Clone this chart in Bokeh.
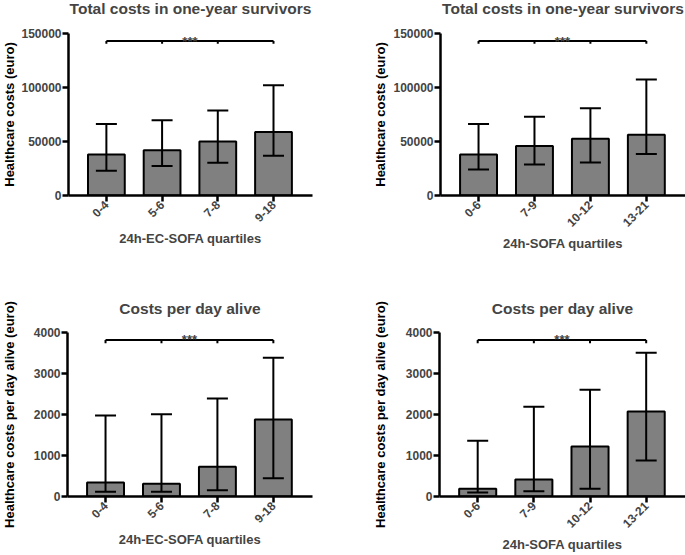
import math
from bokeh.plotting import figure
from bokeh.layouts import column, row
from bokeh.models import (ColumnDataSource, Whisker, TeeHead, FixedTicker,
                          NumeralTickFormatter, Range1d, Label)
from bokeh.core.properties import value
from bokeh.embed import file_html
from bokeh.resources import INLINE

# ---------------- data ----------------
ec_sofa_cats = ["0-4", "5-6", "7-8", "9-18"]
sofa_cats = ["0-6", "7-9", "10-12", "13-21"]

# Total costs in one-year survivors (median, lower, upper)
total_ec_median = [38000, 41800, 50100, 58800]
total_ec_lower = [22900, 27200, 30300, 36800]
total_ec_upper = [66200, 69600, 78600, 102000]

total_sofa_median = [38000, 45800, 52600, 56300]
total_sofa_lower = [24100, 28800, 30600, 38400]
total_sofa_upper = [66200, 73000, 80700, 107300]

# Costs per day alive
day_ec_median = [341, 309, 724, 1878]
day_ec_lower = [114, 114, 154, 447]
day_ec_upper = [1976, 2008, 2390, 3382]

day_sofa_median = [187, 415, 1220, 2073]
day_sofa_lower = [98, 130, 187, 878]
day_sofa_upper = [1358, 2187, 2602, 3504]

total_ticks = [0, 50000, 100000, 150000]
day_ticks = [0, 1000, 2000, 3000, 4000]

# significance bracket: (line level, tick bottom)
total_bracket = [143000, 140500]
day_bracket = [3820, 3740]
sig_text = "***"

y_titles = ["Healthcare costs (euro)", "Healthcare costs per day alive (euro)"]

FONT = "Liberation Sans"
BAR_COLOR = "#808080"
X0, X1 = 0.32, 4.70


def no_align(f):
    if "frame_align" in f.properties():
        f.frame_align = False
    return f


def make_panel(title, cats, med, low, up, ticks, ymax, bracket, xlabel,
               width, height, bl, br, bb, axis_px, head_px, title_base):
    # the frame reaches the top of the figure; the axis itself spans
    # [0, ymax] over axis_px pixels, leaving head_px pixels above for the title
    yend = ymax * (axis_px + head_px) / axis_px
    x = list(range(1, len(cats) + 1))
    src = ColumnDataSource(dict(x=x, med=med, low=low, up=up))
    p = figure(width=width, height=height, output_backend="svg",
               toolbar_location=None, x_range=Range1d(X0, X1),
               y_range=Range1d(0, yend),
               min_border_left=bl, min_border_right=br,
               min_border_top=0, min_border_bottom=bb)
    no_align(p)
    p.outline_line_color = None
    p.grid.visible = False
    p.background_fill_color = "white"
    p.border_fill_color = "white"

    p.vbar(x="x", top="med", bottom=0, width=0.66, source=src,
           fill_color=BAR_COLOR, line_color="black", line_width=2)

    w = Whisker(base="x", upper="up", lower="low", source=src,
                line_width=2, line_color="black", level="overlay",
                upper_head=TeeHead(size=21, line_width=2, line_color="black"),
                lower_head=TeeHead(size=21, line_width=2, line_color="black"))
    p.add_layout(w)

    # significance bracket
    p.segment(x0=[x[0]], y0=[bracket[0]], x1=[x[-1]], y1=[bracket[0]],
              line_color="black", line_width=2)
    p.segment(x0=x, y0=[bracket[0]] * len(x), x1=x, y1=[bracket[1]] * len(x),
              line_color="black", line_width=2)
    p.add_layout(Label(x=(x[0] + x[-1]) / 2, y=bracket[0], text=sig_text,
                       text_align="center", text_baseline="alphabetic",
                       text_font=FONT, text_font_style="bold",
                       text_font_size="13px", y_offset=0))

    # title
    p.add_layout(Label(x=(X0 + X1) / 2, y=yend, y_offset=-title_base,
                       text=title, text_align="center",
                       text_baseline="alphabetic", text_font=FONT,
                       text_font_style="bold", text_font_size="15.5px"))

    for ax in (p.xaxis[0], p.yaxis[0]):
        ax.axis_line_width = 2.5
        ax.major_tick_line_width = 2.5
        ax.major_tick_out = 6
        ax.major_tick_in = 0
        ax.minor_tick_line_color = None
        ax.major_label_text_font = FONT
        ax.major_label_text_font_style = "bold"
        ax.major_label_text_font_size = "12px"
        ax.axis_label_text_font = FONT
        ax.axis_label_text_font_style = "bold"
        ax.axis_label_text_font_size = "13px"
        ax.major_label_standoff = 1

    p.xaxis.ticker = FixedTicker(ticks=x)
    p.xaxis.major_label_overrides = {xi: c for xi, c in zip(x, cats)}
    p.xaxis.major_label_orientation = math.pi / 4
    p.xaxis.axis_label = xlabel
    p.xaxis.axis_label_standoff = 2

    p.yaxis.ticker = FixedTicker(ticks=ticks)
    p.yaxis.formatter = NumeralTickFormatter(format="0")
    p.yaxis.bounds = (0, ymax)
    return p


TH, BH = 290, 265
T_BB, T_AX, T_HEAD = 95, 162, 33
B_BB, B_AX, B_HEAD = 59, 164, 42
H_TOTAL = TH + BH
# vertical centres (from the top) of the two value axes
axis_centres = [T_HEAD + T_AX / 2, TH + B_HEAD + B_AX / 2]


def make_ylabel_strip(width):
    # full-height strip carrying the vertical axis titles of both rows
    f = figure(width=width, height=H_TOTAL, output_backend="svg",
               toolbar_location=None, x_range=Range1d(0, 1),
               y_range=Range1d(0, H_TOTAL), x_axis_location=None,
               y_axis_location=None, min_border=0,
               min_border_left=0, min_border_right=0,
               min_border_top=0, min_border_bottom=0)
    no_align(f)
    f.outline_line_color = None
    f.grid.visible = False
    f.text(x=[0.5, 0.5], y=[H_TOTAL - c for c in axis_centres], text=y_titles,
           angle=math.pi / 2, text_align="center", text_baseline="middle",
           text_font=value(FONT), text_font_style="bold",
           text_font_size="13px", text_color="black")
    return f


LCOL, RCOL = 352, 295

p1 = make_panel("Total costs in one-year survivors", ec_sofa_cats,
                total_ec_median, total_ec_lower, total_ec_upper,
                total_ticks, 150000, total_bracket, "24h-EC-SOFA quartiles",
                LCOL, TH, 49, 58, T_BB, T_AX, T_HEAD, 8)
p2 = make_panel("Total costs in one-year survivors", sofa_cats,
                total_sofa_median, total_sofa_lower, total_sofa_upper,
                total_ticks, 150000, total_bracket, "24h-SOFA quartiles",
                RCOL, TH, 49, 0, T_BB, T_AX, T_HEAD, 8)
p3 = make_panel("Costs per day alive", ec_sofa_cats,
                day_ec_median, day_ec_lower, day_ec_upper,
                day_ticks, 4000, day_bracket, "24h-EC-SOFA quartiles",
                LCOL, BH, 49, 58, B_BB, B_AX, B_HEAD, 18)
p4 = make_panel("Costs per day alive", sofa_cats,
                day_sofa_median, day_sofa_lower, day_sofa_upper,
                day_ticks, 4000, day_bracket, "24h-SOFA quartiles",
                RCOL, BH, 49, 0, B_BB, B_AX, B_HEAD, 18)

ylL = make_ylabel_strip(18)
ylR = make_ylabel_strip(20)

layout = row(ylL, column(p1, p3), ylR, column(p2, p4))
open("out.html", "w").write(file_html(layout, INLINE))
